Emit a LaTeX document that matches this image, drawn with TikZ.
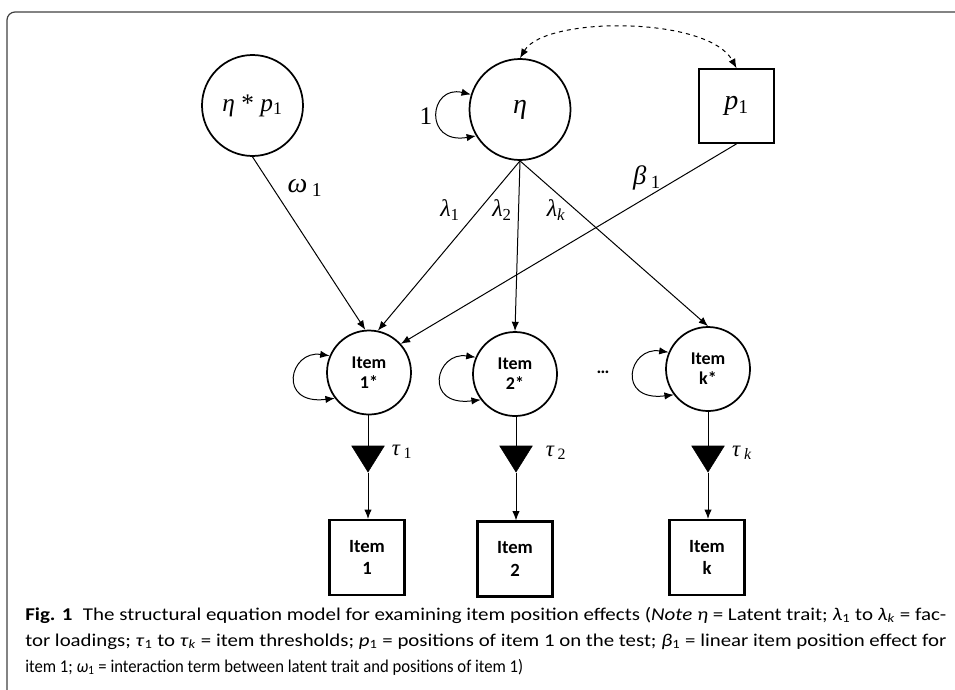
\documentclass[tikz,border=0pt]{standalone}
\usepackage{fontspec}
\usepackage{graphicx}
\setmainfont{Liberation Serif}
\newfontfamily\itemfont{Carlito}
\newfontfamily\capfont{Carlito}
\usetikzlibrary{arrows.meta,shapes.geometric}
\newcommand{\capsize}{\capfont\fontsize{13.5}{15}\selectfont}
\newcommand{\capA}{\textbf{Fig. 1}\enspace The structural equation model for examining item position effects (\textit{Note η} = Latent trait; \textit{λ}\textsubscript{1} to \textit{λ}\textsubscript{\textit{k}} = fac-}
\newcommand{\capB}{tor loadings; \textit{τ}\textsubscript{1} to \textit{τ}\textsubscript{\textit{k}} = item thresholds; \textit{p}\textsubscript{1} = positions of item 1 on the test; \textit{β}\textsubscript{1} = linear item position effect for}
\newcommand{\capC}{item 1; \textit{ω}\textsubscript{1} = interaction term between latent trait and positions of item 1)}
\begin{document}
\begin{tikzpicture}[x=0.75pt,y=-0.75pt,
  lat/.style={circle,draw,line width=1.3pt,inner sep=0pt,minimum size=#1},
  obs/.style={rectangle,draw,line width=1.6pt,inner sep=0pt,minimum width=75*0.75pt,minimum height=75*0.75pt,font=\itemfont\bfseries\fontsize{14}{17}\selectfont,align=center},
  itemc/.style={lat=84*0.75pt,font=\itemfont\bfseries\fontsize{13.5}{15}\selectfont,align=center},
  thr/.style={isosceles triangle,isosceles triangle apex angle=64,shape border rotate=270,fill=black,draw=black,inner sep=0pt,minimum height=26*0.75pt,minimum width=32*0.75pt},
  conn/.style={line width=0.75pt},
  arr/.style={conn,-{Latex[length=7pt,width=5.5pt]}},
  darr/.style={conn,{Latex[length=7pt,width=5.5pt]}-{Latex[length=7pt,width=5.5pt]}},
  lbl/.style={font=\fontsize{18}{20}\selectfont\itshape,inner sep=0pt},
  captxt/.style={anchor=base west,inner sep=0pt,font=\capsize}]
\useasboundingbox (0,0) rectangle (955,689);
% frame
\draw[line width=0.9pt,black!75,rounded corners=8*0.75pt] (960,12) -- (7,12) -- (7,700) -- (960,700);
% top nodes
\node[lat=101*0.75pt,font=\fontsize{19}{22}\selectfont] (etap) at (252.5,105.5) {\textit{η} * \textit{p}\textsubscript{1}};
\node[lat=101*0.75pt,font=\fontsize{21}{22}\selectfont] (eta) at (520,109.5) {\textit{η}};
\node[rectangle,draw,line width=1.3pt,inner sep=0pt,minimum width=75*0.75pt,minimum height=74*0.75pt,font=\fontsize{21}{22}\selectfont] (p1) at (736.5,106) {\textit{p}\textsubscript{1}};
% item circles
\node[itemc] (i1) at (369,372.5) {Item\\1*};
\node[itemc] (i2) at (515,374) {Item\\2*};
\node[itemc] (ik) at (708,369) {Item\\k*};
\node[font=\itemfont\bfseries\fontsize{13.5}{15}\selectfont] (dots) at (603,372) {…};
% thresholds
\node[thr] (t1) at (368,455) {};
\node[thr] (t2) at (516,455) {};
\node[thr] (tk) at (708,455) {};
% observed boxes
\node[obs] (o1) at (367,557.5) {Item\\1};
\node[obs] (o2) at (515,559) {Item\\2};
\node[obs] (ok) at (707,557.5) {Item\\k};
% self loops
\draw[darr] (eta.163) .. controls +(-42,-10) and +(-53,9) .. (eta.211);
\draw[darr] (i1.157) .. controls +(-40,-6) and +(-58,7) .. (i1.217);
\draw[darr] (i2.157) .. controls +(-40,-6) and +(-58,7) .. (i2.217);
\draw[darr] (ik.157) .. controls +(-40,-6) and +(-58,7) .. (ik.217);
\node[font=\fontsize{19}{20}\selectfont,inner sep=0pt] (one) at (426,116) {1};
% dashed covariance
\draw[conn,dashed,{Latex[length=7pt,width=5.5pt]}-{Latex[length=7pt,width=5.5pt]}] (eta.north) .. controls (545,16) and (708,16) .. (p1.north);
% paths
\draw[arr] (etap.south) -- (i1.95);
\draw[arr] (eta.south) -- (i1.78);
\draw[arr] (eta.south) -- (i2.north);
\draw[arr] (eta.south) -- (ik.north);
\draw[arr] (p1.south) -- (i1.42);
\node[lbl,font=\fontsize{21}{22}\selectfont\itshape] (lw) at (305,188) {ω\,\textsubscript{\upshape 1}};
\node[lbl] (l1) at (450,210) {λ\textsubscript{\upshape 1}};
\node[lbl] (l2) at (502,210) {λ\textsubscript{\upshape 2}};
\node[lbl] (lk) at (556,210) {λ\textsubscript{\itshape k}};
\node[lbl,font=\fontsize{20}{22}\selectfont\itshape] (lb) at (647,178) {β\,\textsubscript{\upshape 1}};
% thresholds connectors
\draw[conn] (i1.south -| t1.north) -- (t1.north);
\draw[conn] (i2.south -| t2.north) -- (t2.north);
\draw[conn] (ik.south -| tk.north) -- (tk.north);
\draw[arr] (t1.south) -- (o1.north -| t1.south);
\draw[arr] (t2.south) -- (o2.north -| t2.south);
\draw[arr] (tk.south) -- (ok.north -| tk.south);
\node[lbl,font=\fontsize{17}{19}\selectfont\itshape] (tau1) at (402,452) {τ\,\textsubscript{\upshape 1}};
\node[lbl,font=\fontsize{17}{19}\selectfont\itshape] (tau2) at (556,453) {τ\,\textsubscript{\upshape 2}};
\node[lbl,font=\fontsize{17}{19}\selectfont\itshape] (tauk) at (742,453) {τ\,\textsubscript{\itshape k}};
% caption
\node[captxt] (c1) at (25,620) {\resizebox{921\dimexpr0.75pt\relax}{\height}{\capA}};
\node[captxt] (c2) at (25,646) {\resizebox{921\dimexpr0.75pt\relax}{\height}{\capB}};
\node[captxt] (c3) at (25,672) {\resizebox{498\dimexpr0.75pt\relax}{\height}{\capC}};
\end{tikzpicture}
\end{document}
